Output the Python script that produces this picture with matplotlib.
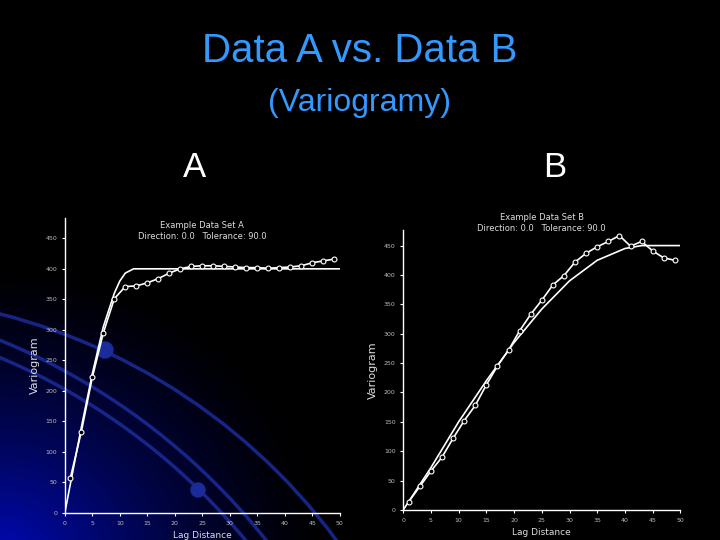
import numpy as np
import matplotlib
matplotlib.use("Agg")
import matplotlib.pyplot as plt
from matplotlib.patches import Circle, Arc

lags = [1, 3, 5, 7, 9, 11, 13, 15, 17, 19, 21, 23, 25, 27, 29, 31, 33, 35, 37, 39, 41, 43, 45, 47, 49]
exp_a = [57, 133, 222, 295, 351, 371, 372, 377, 384, 393, 400, 404, 405, 405, 404, 403, 402, 402, 401, 402, 403, 405, 410, 413, 416]
model_a_x = [0, 1, 3, 5, 7, 9, 10, 11, 12.5, 50]
model_a_y = [0, 47, 140, 228, 305, 360, 380, 393, 400, 400]
exp_b = [14, 40, 66, 90, 122, 152, 178, 213, 245, 272, 305, 333, 357, 383, 399, 422, 437, 448, 457, 467, 449, 457, 441, 429, 425]
model_b_x = [0, 5, 10, 15, 20, 25, 30, 35, 40, 43, 50]
model_b_y = [0, 72, 150, 220, 285, 342, 390, 425, 445, 450, 450]

fig = plt.figure(figsize=(7.2, 5.4), dpi=100)
fig.patch.set_facecolor("black")

# background glow
bg = fig.add_axes([0, 0, 1, 1], zorder=-10)
bg.set_xlim(0, 720); bg.set_ylim(540, 0); bg.axis("off")
yy, xx = np.mgrid[0:540, 0:720]
d = np.sqrt((xx - 0) ** 2 + ((yy - 560) * 1.1) ** 2)
inten = np.clip(1 - d / 330, 0, 1) ** 1.4
img = np.zeros((540, 720, 3))
img[..., 2] = 0.72 * inten
img[..., 1] = 0.04 * inten
bg.imshow(img, extent=(0, 720, 540, 0), aspect="auto")
for cx, cy, r in [(-150, 900, 605), (-250, 950, 659), (-250, 950, 643)]:
    bg.add_patch(Arc((cx, cy), 2 * r, 2 * r, theta1=0, theta2=360, color="#1a2c9a", lw=2.5, alpha=0.85))
bg.add_patch(Circle((105, 350), 8, color="#1a2c9a"))
bg.add_patch(Circle((198, 490), 7, color="#1a2c9a"))

fig.text(0.5, 0.885, "Data A vs. Data B", color="#3399ff", fontsize=29, ha="center", family="Liberation Sans")
fig.text(0.5, 0.795, "(Variogramy)", color="#3399ff", fontsize=23, ha="center", family="Liberation Sans")
fig.text(0.27, 0.672, "A", color="white", fontsize=25, ha="center", family="Liberation Sans")
fig.text(0.77, 0.672, "B", color="white", fontsize=25, ha="center", family="Liberation Sans")

def setup(ax, ymax, title, ty):
    ax.set_facecolor("none")
    ax.set_xlim(0, 50); ax.set_ylim(0, ymax)
    for s in ["top", "right"]:
        ax.spines[s].set_visible(False)
    for s in ["left", "bottom"]:
        ax.spines[s].set_color("white"); ax.spines[s].set_linewidth(1)
    ax.set_xticks(range(0, 51, 5)); ax.set_yticks(range(0, 451, 50))
    ax.tick_params(colors="white", labelsize=4.5, length=2, labelcolor="#bbbbbb")
    ax.set_xlabel("Lag Distance", color="#dddddd", fontsize=6.5)
    ax.set_ylabel("Variogram", color="#dddddd", fontsize=8)
    ax.text(25, ty, title, color="#dddddd", fontsize=6, ha="center", va="top")

ax1 = fig.add_axes([0.090, 0.05, 0.382, 0.546])
setup(ax1, 483, "Example Data Set A\nDirection: 0.0   Tolerance: 90.0", 478)
ax1.plot(model_a_x, model_a_y, color="white", lw=1.2)
ax1.plot(lags, exp_a, color="white", lw=1.2, marker="o", ms=3.5, mfc="black", mec="white", mew=0.8)

ax2 = fig.add_axes([0.560, 0.0556, 0.385, 0.519])
setup(ax2, 477, "Example Data Set B\nDirection: 0.0   Tolerance: 90.0", 505)
ax2.plot(model_b_x, model_b_y, color="white", lw=1.2)
ax2.plot(lags, exp_b, color="white", lw=1.2, marker="o", ms=3.5, mfc="black", mec="white", mew=0.8)

fig.savefig("out.png", dpi=100, facecolor="black")
